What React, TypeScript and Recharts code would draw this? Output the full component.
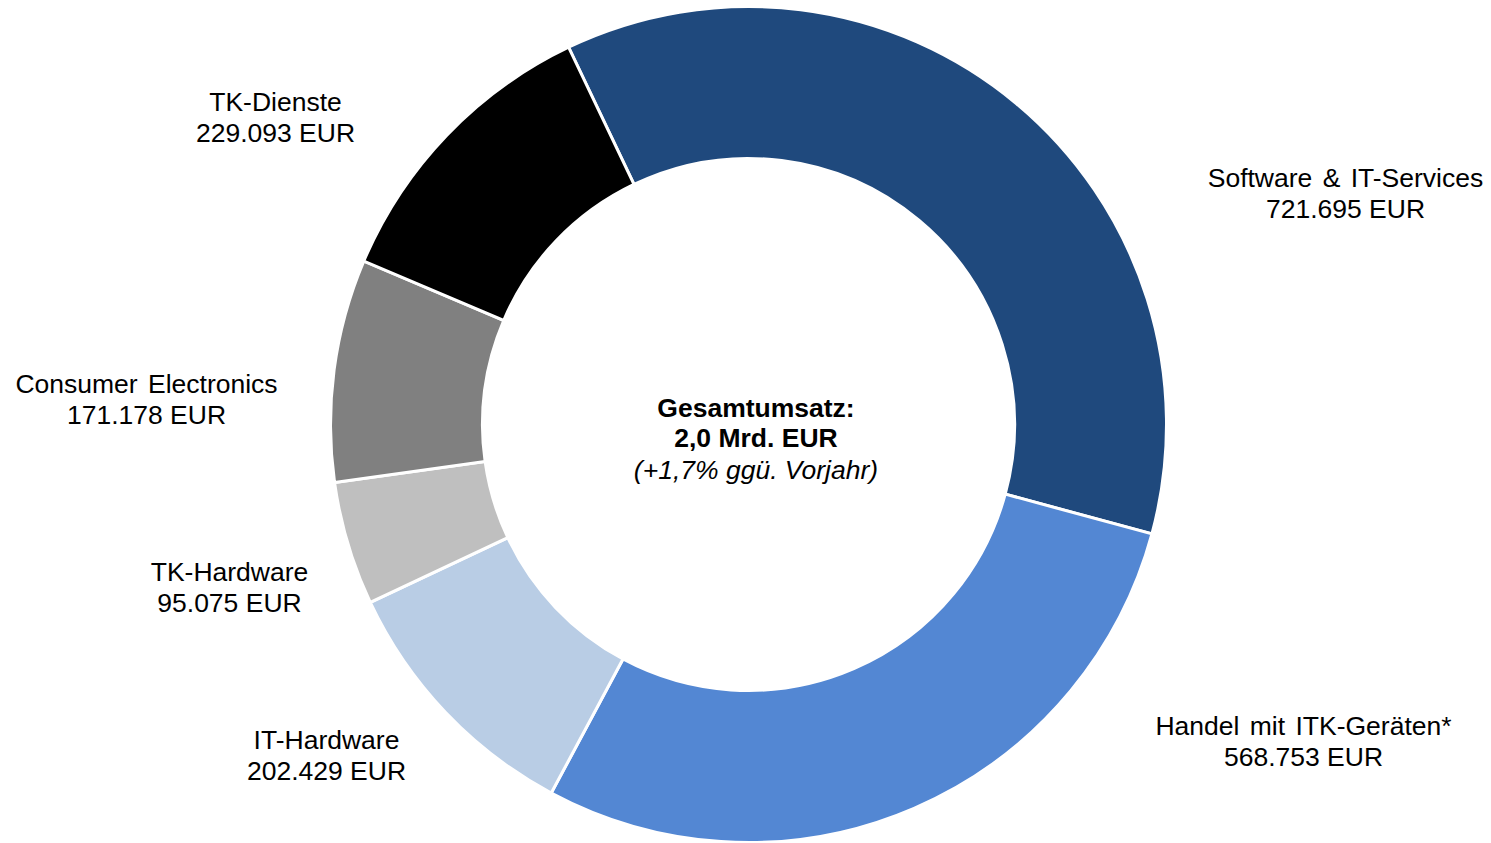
import React from "react";
import { PieChart, Pie, Cell, Label } from "recharts";

const categories = [
    "Software & IT-Services",
    "Handel mit ITK-Geräten*",
    "IT-Hardware",
    "TK-Hardware",
    "Consumer Electronics",
    "TK-Dienste",
];
const values = [721695, 568753, 202429, 95075, 171178, 229093];
const colors = ["#1f497d", "#5387d3", "#b9cde5", "#bfbfbf", "#808080", "#000000"];

const centerLines = ["Gesamtumsatz:", "2,0 Mrd. EUR", "(+1,7% ggü. Vorjahr)"];

// label anchor offsets from the pie centre (x = text centre, y = first line centre)
const labelOffsets = [
    { dx: 597, dy: -247 },
    { dx: 555, dy: 301 },
    { dx: -422, dy: 315 },
    { dx: -519, dy: 147 },
    { dx: -602, dy: -41 },
    { dx: -473, dy: -323 },
];

const data = categories.map((name, i) => ({ name, value: values[i] }));

const fmt = (v: number) => String(v).replace(/\B(?=(\d{3})+(?!\d))/g, ".");

const FONT = "'Liberation Sans', Arial, sans-serif";
const FS = 26.5;
const LINE = 31;

function renderLabel(props: any) {
    const { cx, cy, index } = props;
    const off = labelOffsets[index];
    const x = cx + off.dx;
    const y = cy + off.dy + 9.5;
    return (
        <text
            key={`lbl-${index}`}
            x={x}
            y={y}
            textAnchor="middle"
            fontFamily={FONT}
            fontSize={FS}
            fill="#000"
        >
            <tspan x={x} y={y} wordSpacing={3}>{categories[index]}</tspan>
            <tspan x={x} y={y + LINE}>{fmt(values[index])} EUR</tspan>
        </text>
    );
}

function CenterText(props: any) {
    const vb = props.viewBox || {};
    const x = (vb.cx ?? 748.5) + 7.5;
    const y = (vb.cy ?? 424.5) - 17.5 + 9.5;
    return (
        <text x={x} y={y} textAnchor="middle" fontFamily={FONT} fontSize={FS} fill="#000">
            <tspan x={x} y={y} fontWeight="bold">{centerLines[0]}</tspan>
            <tspan x={x} y={y + 30} fontWeight="bold">{centerLines[1]}</tspan>
            <tspan x={x} y={y + 62} fontStyle="italic">{centerLines[2]}</tspan>
        </text>
    );
}

export default function App() {
    return (
        <div style={{ position: "absolute", left: 0, top: 0, width: 1491, height: 843, background: "#fff" }}>
            <PieChart width={1491} height={843} margin={{ top: 0, right: 0, bottom: 0, left: 0 }}>
                <Pie
                    data={data}
                    dataKey="value"
                    nameKey="name"
                    cx={748.5}
                    cy={424.5}
                    innerRadius={266}
                    outerRadius={418}
                    startAngle={115.5}
                    endAngle={-244.5}
                    stroke="#ffffff"
                    strokeWidth={3}
                    label={renderLabel}
                    labelLine={false}
                    isAnimationActive={false}
                >
                    {data.map((d, i) => (
                        <Cell key={d.name} fill={colors[i]} />
                    ))}
                    <Label position="center" content={<CenterText />} />
                </Pie>
            </PieChart>
        </div>
    );
}
